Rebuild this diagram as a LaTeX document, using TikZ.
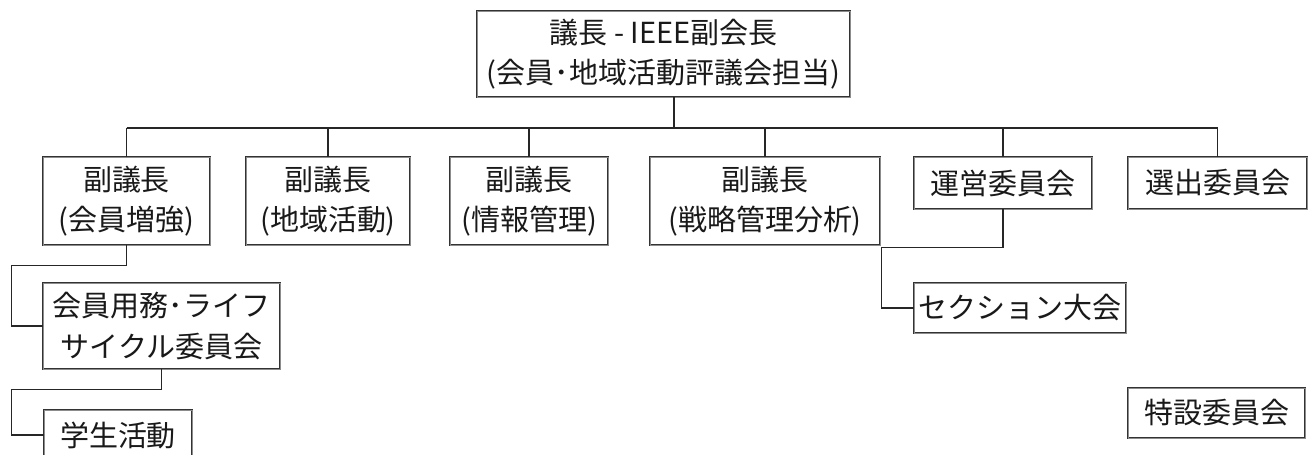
\documentclass[tikz,border=0pt]{standalone}
\usepackage{fontspec}
\setmainfont{Noto Sans CJK JP}
\usetikzlibrary{calc}

\tikzset{
  orgbox/.style={draw=black!80, line width=0.5pt, double=black!45, double distance=0.55pt,
    align=center, inner sep=2pt, font=\fontsize{16.5pt}{23pt}\selectfont, text=black!90},
  link/.style={draw=black!85, line width=0.7pt},
}

\begin{document}
\begin{tikzpicture}
	    \useasboundingbox (0,0) rectangle (26.22,-9.1);
	    \clip (0,0) rectangle (26.22,-9.1);

	    % top of the chart
	    \node[orgbox, minimum width=7.46cm, minimum height=1.72cm] (chair) at (13.27,-1.08) {議長 - IEEE副会長\\(会員･地域活動評議会担当)};

	    % second row
	    \node[orgbox, minimum width=3.34cm, minimum height=1.76cm] (vpmember) at (2.53,-4.02) {副議長\\(会員増強)};
	    \node[orgbox, minimum width=3.28cm, minimum height=1.76cm] (vpregion) at (6.56,-4.02) {副議長\\(地域活動)};
	    \node[orgbox, minimum width=3.16cm, minimum height=1.76cm] (vpinfo) at (10.58,-4.02) {副議長\\(情報管理)};
	    \node[orgbox, minimum width=4.60cm, minimum height=1.76cm] (vpstrategy) at (15.30,-4.02) {副議長\\(戦略管理分析)};
	    \node[orgbox, minimum width=3.56cm, minimum height=1.04cm] (steering) at (20.06,-3.66) {運営委員会};
	    \node[orgbox, minimum width=3.58cm, minimum height=1.04cm] (election) at (24.35,-3.66) {選出委員会};

	    % lower boxes
	    \node[orgbox, minimum width=4.74cm, minimum height=1.72cm] (lifecycle) at (3.23,-6.52) {会員用務･ライフ\\サイクル委員会};
	    \node[orgbox, minimum width=2.96cm, minimum height=1.00cm] (student) at (2.36,-8.70) {学生活動};
	    \node[orgbox, minimum width=4.24cm, minimum height=1.00cm] (section) at (20.40,-6.16) {セクション大会};
	    \node[orgbox, minimum width=3.54cm, minimum height=1.00cm] (special) at (24.33,-8.26) {特設委員会};

	    % trunk and bus
	    \coordinate (trunk) at (13.48,-2.56);
	    \draw[link, line width=1.2pt] (trunk |- chair.south) -- (trunk);
	    \draw[link, line width=1pt] (vpmember.north |- trunk) -- (election.north |- trunk);
	    \foreach \n in {vpmember,vpregion,vpinfo,vpstrategy,steering,election}
	      \draw[link] (\n.north |- trunk) -- (\n.north);

	    % elbows
	    \draw[link] (vpmember.south) -- ++(0,-0.4) -| ([xshift=-0.62cm]lifecycle.west) -- (lifecycle.west);
	    \draw[link] (lifecycle.south) -- ++(0,-0.4) -| ([xshift=-0.64cm]student.west) -- (student.west);
	    \draw[link] (steering.south) -- ++(0,-0.76) -| ([xshift=-0.64cm]section.west) -- (section.west);
\end{tikzpicture}
\end{document}
